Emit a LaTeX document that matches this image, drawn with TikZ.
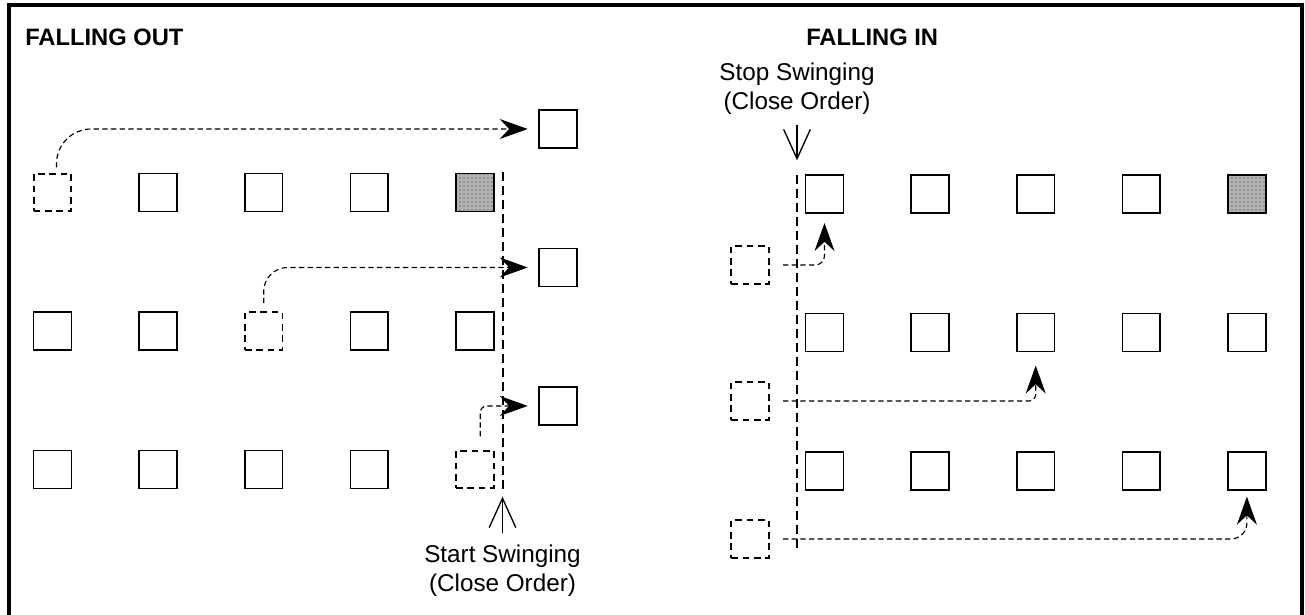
\documentclass[tikz,border=0pt]{standalone}
\usepackage{fontspec}
\setmainfont{Liberation Sans}
\usetikzlibrary{positioning,arrows.meta,patterns}

\begin{document}
\begin{tikzpicture}[x=0.75pt, y=-0.75pt, node distance=74.25pt and 49.6pt]
    \tikzset{
      post/.style = {rectangle, draw=black, line width=1.2pt, minimum size=28.4pt, inner sep=0pt},
      guide/.style = {post, fill=black!30, postaction={pattern=dots, pattern color=black!85}},
      empty/.style = {rectangle, draw=black, line width=1.4pt, dash pattern=on 5pt off 3.5pt, minimum size=28.2pt, inner sep=0pt},
      move/.style = {line width=0.85pt, dash pattern=on 4pt off 2.5pt, -{Stealth[length=21pt, width=15pt, inset=7pt]}},
      limit/.style = {line width=1.5pt, dash pattern=on 7pt off 3.5pt},
      pointer/.style = {line width=1pt, -{Straight Barb[length=22pt, width=20pt]}},
      title/.style = {anchor=base west, inner sep=0pt, font=\fontsize{17.8pt}{21pt}\selectfont\bfseries},
      note/.style = {anchor=north, align=center, inner sep=0pt, font=\fontsize{18.2pt}{21.75pt}\selectfont}
    }
    \useasboundingbox (0,0) rectangle (1305,614);
    \draw [line width=2.3pt] (9,616) |- (1302,5) -- (1302,616);

    % falling out
    \node (out) [title] at (25,45) {FALLING OUT};

    \node (a11) [empty] at (52.5,192.5) {};
    \node (a12) [post, right=of a11] {};
    \node (a13) [post, right=of a12] {};
    \node (a14) [post, right=of a13] {};
    \node (a15) [guide, right=of a14] {};

    \node (a21) [post, below=of a11] {};
    \node (a22) [post, right=of a21] {};
    \node (a23) [empty, right=of a22] {};
    \node (a24) [post, right=of a23] {};
    \node (a25) [post, right=of a24] {};

    \node (a31) [post, below=of a21] {};
    \node (a32) [post, right=of a31] {};
    \node (a33) [post, right=of a32] {};
    \node (a34) [post, right=of a33] {};
    \node (a35) [empty, right=of a34] {};

    \node (t1) [post] at (558,129) {};
    \node (t2) [post, below=of t1] {};
    \node (t3) [post, below=of t2] {};

    \coordinate (ltop) at (502.5,172);
    \coordinate (lbot) at (502.5,490);
    \draw [limit] (ltop) -- (lbot);

    \node (start) [note] at (502.5,545) {Start Swinging\\(Close Order)};
    \draw [pointer, shorten <=9pt, shorten >=5pt] (start) -- (lbot);

    \draw [move, rounded corners=26pt, shorten <=4pt, shorten >=7.9pt] ([xshift=3pt]a11.north) |- (t1);
    \draw [move, rounded corners=18pt, shorten <=6pt, shorten >=7.9pt] (a23.north) |- (t2);
    \draw [move, rounded corners=5pt, shorten <=10pt, shorten >=7.9pt] ([xshift=4pt]a35.north) |- (t3);

    % falling in
    \node (in) [title] at (806,45) {FALLING IN};

    \node (b11) [post] at (824.5,194) {};
    \node (b12) [post, right=of b11] {};
    \node (b13) [post, right=of b12] {};
    \node (b14) [post, right=of b13] {};
    \node (b15) [guide, right=of b14] {};

    \node (b21) [post, below=of b11] {};
    \node (b22) [post, right=of b21] {};
    \node (b23) [post, right=of b22] {};
    \node (b24) [post, right=of b23] {};
    \node (b25) [post, right=of b24] {};

    \node (b31) [post, below=of b21] {};
    \node (b32) [post, right=of b31] {};
    \node (b33) [post, right=of b32] {};
    \node (b34) [post, right=of b33] {};
    \node (b35) [post, right=of b34] {};

    \node (p1) [empty] at (750,265) {};
    \node (p2) [empty] at (750,401) {};
    \node (p3) [empty] at (750,539) {};

    \coordinate (rtop) at (797,175);
    \coordinate (rbot) at (797,548);
    \draw [limit] (rtop) -- (rbot);

    \node (stop) [note] at (797,62.5) {Stop Swinging\\(Close Order)};
    \draw [pointer, shorten <=8pt, shorten >=11pt] (stop) -- (rtop);

    \draw [move, rounded corners=7pt, shorten <=10pt, shorten >=7pt] (p1) -| (b11);
    \draw [move, rounded corners=5pt, shorten <=10pt, shorten >=10pt] (p2) -| (b23);
    \draw [move, rounded corners=12pt, shorten <=10pt, shorten >=4.5pt] (p3) -| (b35);
\end{tikzpicture}
\end{document}
